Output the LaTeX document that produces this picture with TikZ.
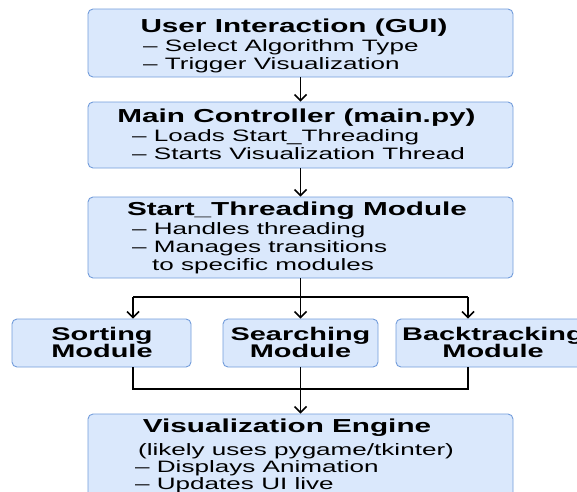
\documentclass[tikz,border=0pt]{standalone}
\usepackage{fontspec}
\newfontfamily\diafont{Liberation Sans}[FakeStretch=1.58]
\usetikzlibrary{arrows.meta}
\definecolor{boxfill}{HTML}{DAE8FC}
\definecolor{boxline}{HTML}{729CDB}
\begin{document}
\begin{tikzpicture}[x=1pt,y=-1pt,
  box/.style={draw=boxline, fill=boxfill, rounded corners=5pt, line width=0.9pt, inner sep=0pt},
  ttl/.style={font=\diafont\bfseries\fontsize{18.8}{20}\selectfont, inner sep=0pt, anchor=base},
  modt/.style={font=\diafont\bfseries\fontsize{18.3}{20}\selectfont, inner sep=0pt, anchor=base},
  ln/.style={font=\diafont\fontsize{16.5}{18}\selectfont, inner sep=0pt, anchor=base west},
  lnc/.style={font=\diafont\fontsize{16.5}{18}\selectfont, inner sep=0pt, anchor=base},
  conn/.style={line width=1.5pt, black},
  arr/.style={conn, -{Straight Barb[length=6pt,width=12pt]}}]
\useasboundingbox (0,0) rectangle (577,491);
\clip (0,0) rectangle (577,491);
\fill[white] (0,0) rectangle (577,491);
% boxes
\node[box, minimum width=425pt, minimum height=68pt] (b1) at (300.5,43) {};
\node[box, minimum width=425pt, minimum height=66pt] (b2) at (300.5,135) {};
\node[box, minimum width=425pt, minimum height=81pt] (b3) at (300.5,237.5) {};
\node[box, minimum width=179pt, minimum height=48pt] (sort) at (101.5,343) {};
\node[box, minimum width=155pt, minimum height=48pt] (search) at (300.5,343) {};
\node[box, minimum width=194pt, minimum height=48pt] (back) at (493,343) {};
\node[box, minimum width=425pt, minimum height=96pt] (eng) at (300.5,462) {};
% texts
\node[ttl] (t1) at (294,32) {User Interaction (GUI)};
\node[ln] (l1a) at (143,51) {– Select Algorithm Type};
\node[ln] (l1b) at (143,69) {– Trigger Visualization};
\node[ttl] (t2) at (296.5,122) {Main Controller (main.py)};
\node[ln] (l2a) at (132,141) {– Loads Start\_Threading};
\node[ln] (l2b) at (132,159) {– Starts Visualization Thread};
\node[ttl] (t3) at (297,215) {Start\_Threading Module};
\node[ln] (l3a) at (132,234) {– Handles threading};
\node[ln] (l3b) at (132,252) {– Manages transitions};
\node[ln] (l3c) at (152,270) {to specific modules};
\node[modt] (ms1) at (102,340) {Sorting};
\node[modt] (ms2) at (102,357) {Module};
\node[modt] (mr1) at (300.5,340) {Searching};
\node[modt] (mr2) at (300.5,357) {Module};
\node[modt] (mb1) at (493,340) {Backtracking};
\node[modt] (mb2) at (493,357) {Module};
\node[ttl] (t5) at (287,432) {Visualization Engine};
\node[lnc] (l5p) at (296,455) {(likely uses pygame/tkinter)};
\node[ln] (l5a) at (135,472) {– Displays Animation};
\node[ln] (l5b) at (135,489) {– Updates UI live};
% connectors
\coordinate (split) at (300.5,297);
\coordinate (sl) at (133,297);
\coordinate (sr) at (468,297);
\coordinate (ml) at (133,389);
\coordinate (mr) at (468,389);
\draw[arr] (b1.south) -- (b2.north);
\draw[arr] (b2.south) -- (b3.north);
\draw[conn] (b3.south) -- (split);
\draw[conn] (sl) -- (sr);
\draw[arr] (sl) -- (sl |- sort.north);
\draw[arr] (split) -- (search.north);
\draw[arr] (sr) -- (sr |- back.north);
\draw[conn] (sl |- sort.south) -- (ml) -- (mr) -- (sr |- back.south);
\draw[arr] (search.south) -- (eng.north);
\end{tikzpicture}
\end{document}
